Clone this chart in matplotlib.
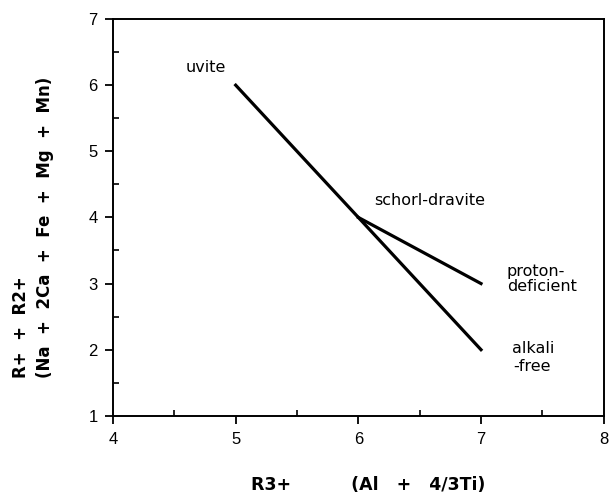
import matplotlib
matplotlib.use("Agg")
import matplotlib.pyplot as plt
from matplotlib.ticker import MultipleLocator

plt.rcParams['font.family'] = ['DejaVu Sans']

# trend lines (R3+, R+ + R2+)
main_x = [5, 6, 7]          # uvite -> schorl-dravite -> alkali-free
main_y = [6, 4, 2]
proton_x = [6, 7]           # schorl-dravite -> proton-deficient
proton_y = [4, 3]

labels = ["uvite", "schorl-dravite", "proton-", "deficient", "alkali", "-free"]
label_x = [4.59, 6.13, 7.21, 7.21, 7.25, 7.26]
label_y = [6.26, 4.25, 3.19, 2.95, 2.02, 1.74]

fig = plt.figure(figsize=(6.11, 5.01), dpi=100)
ax = fig.add_axes([0.185, 0.170, 0.803, 0.792])

ax.plot(main_x, main_y, color='black', linewidth=2.3)
ax.plot(proton_x, proton_y, color='black', linewidth=2.3)

for t, x, y in zip(labels, label_x, label_y):
    ax.text(x, y, t, fontsize=11.5, ha='left', va='center')

ax.set_xlim(4, 8)
ax.set_ylim(1, 7)
ax.xaxis.set_major_locator(MultipleLocator(1))
ax.yaxis.set_major_locator(MultipleLocator(1))
ax.xaxis.set_minor_locator(MultipleLocator(0.5))
ax.yaxis.set_minor_locator(MultipleLocator(0.5))
ax.tick_params(which='major', direction='out', length=6, width=1.3, labelsize=12)
ax.tick_params(which='minor', direction='in', length=4, width=1.2)
ax.tick_params(axis='x', pad=6)
ax.tick_params(axis='y', pad=5)
for lab in ax.get_xticklabels() + ax.get_yticklabels():
    lab.set_family('Liberation Sans')

for s in ax.spines.values():
    s.set_linewidth(1.4)

ax.set_xlabel("R3+          (Al   +   4/3Ti)", fontsize=12.5, fontweight='bold')
ax.xaxis.set_label_coords(0.52, -0.152)
ax.set_ylabel("R+  +  R2+\n(Na  +  2Ca  +  Fe  +  Mg  +  Mn)", fontsize=12,
              fontweight='bold', multialignment='left', linespacing=1.45)
ax.yaxis.set_label_coords(-0.12, 0.476)

fig.savefig("out.png", dpi=100)
